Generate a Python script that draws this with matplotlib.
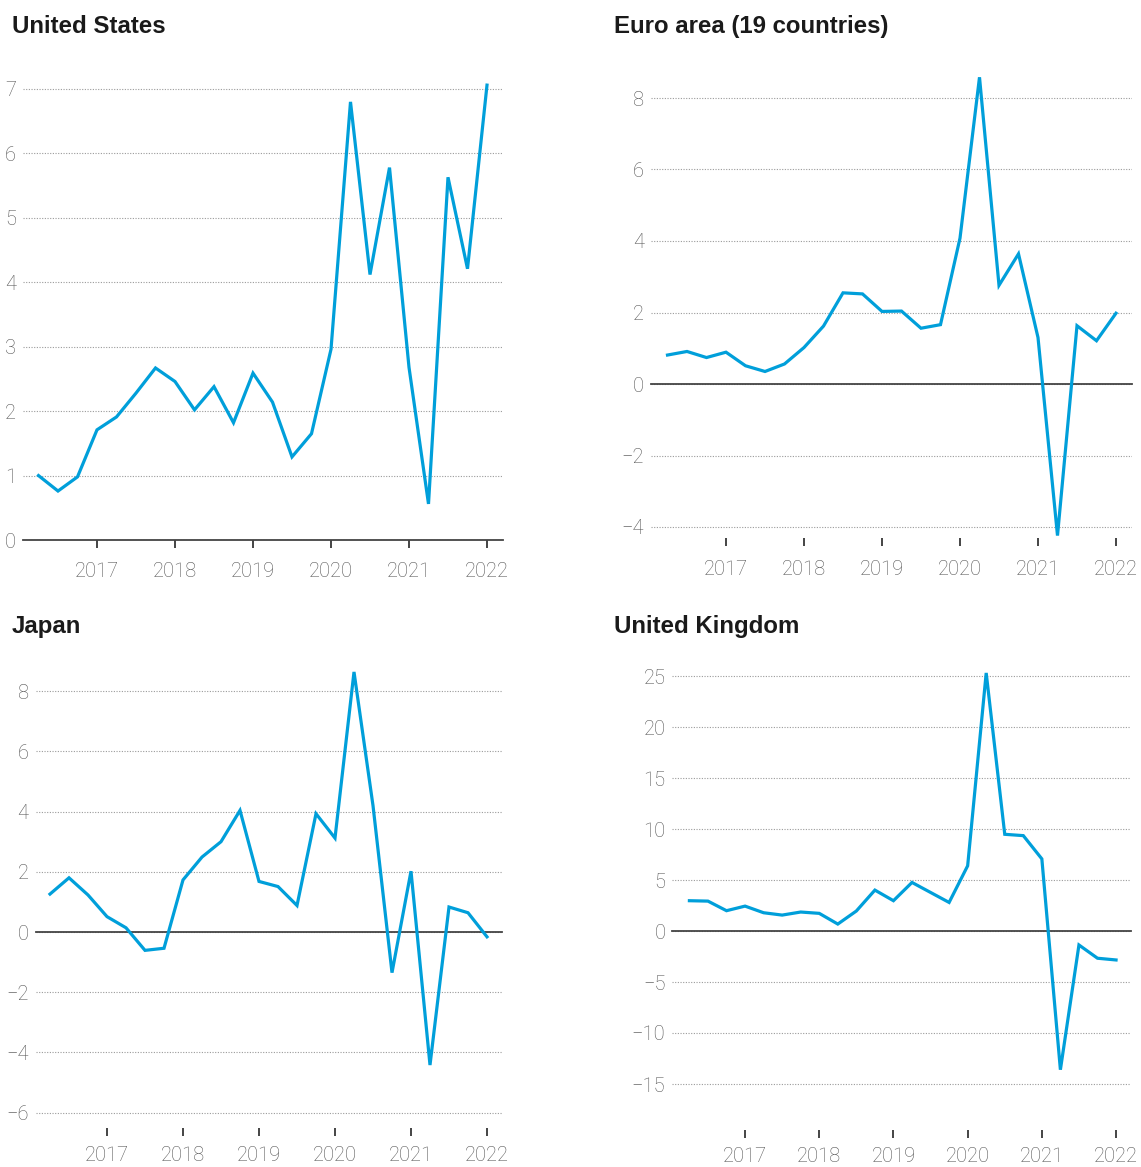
import matplotlib
matplotlib.use("Agg")
import matplotlib.pyplot as plt
import numpy as np

# quarterly observations, 2016Q2 .. 2022Q1
quarters = ['2016Q2', '2016Q3', '2016Q4',
            '2017Q1', '2017Q2', '2017Q3', '2017Q4',
            '2018Q1', '2018Q2', '2018Q3', '2018Q4',
            '2019Q1', '2019Q2', '2019Q3', '2019Q4',
            '2020Q1', '2020Q2', '2020Q3', '2020Q4',
            '2021Q1', '2021Q2', '2021Q3', '2021Q4',
            '2022Q1']

united_states = [1.00, 0.76, 0.98, 1.71, 1.91, 2.28, 2.67, 2.46, 2.02, 2.38, 1.82, 2.59,
                 2.14, 1.29, 1.65, 2.96, 6.80, 4.12, 5.78, 2.68, 0.56, 5.63, 4.21, 7.06]
euro_area = [0.81, 0.91, 0.74, 0.89, 0.51, 0.35, 0.56, 1.02, 1.62, 2.55, 2.52, 2.03,
             2.04, 1.56, 1.66, 4.08, 8.58, 2.76, 3.64, 1.30, -4.24, 1.63, 1.21, 1.98]
japan = [1.26, 1.80, 1.23, 0.51, 0.14, -0.61, -0.54, 1.73, 2.49, 3.00, 4.04, 1.68,
         1.51, 0.88, 3.93, 3.12, 8.64, 4.20, -1.35, 2.02, -4.42, 0.83, 0.64, -0.16]
united_kingdom = [2.97, 2.93, 1.99, 2.44, 1.79, 1.56, 1.86, 1.73, 0.68, 1.96, 4.01, 2.97,
                  4.76, 3.78, 2.80, 6.39, 25.3, 9.48, 9.35, 7.07, -13.6, -1.37, -2.67, -2.84]

year_ticks = [2017, 2018, 2019, 2020, 2021, 2022]

W, H = 1141, 1167
BLUE = '#009fda'
GREY_TXT = '#555555'

x = np.array([int(q[:4]) + (int(q[-1]) - 1) / 4 for q in quarters])

fig = plt.figure(figsize=(W / 100, H / 100), dpi=100)
fig.patch.set_facecolor('white')


def make_axes(px_first, sx, py_zero, sy, xlim, ylim):
    # px_first: pixel of 2016Q2, sx/sy: pixels per unit
    left = px_first - (x[0] - xlim[0]) * sx
    right = left + (xlim[1] - xlim[0]) * sx
    bottom = py_zero - ylim[0] * sy
    top = py_zero - ylim[1] * sy
    return fig.add_axes([left / W, 1 - bottom / H, (right - left) / W, (bottom - top) / H])


panels = [
    # title, data, title pos, axes geometry, yticks, xlim, ylim, x label pad
    ("United States", united_states, (12, 33), (38.5, 78.0, 540, 64.43),
     list(range(0, 8)), (2016.05, 2022.2), (0, 7.25), 10),
    ("Euro area (19 countries)", euro_area, (614, 33), (667.5, 78.0, 384, 35.75),
     [-4, -2, 0, 2, 4, 6, 8], (2016.04, 2022.2), (-4.3, 8.7), 10),
    ("Japan", japan, (12, 633), (50, 76.0, 932, 30.1),
     [-6, -4, -2, 0, 2, 4, 6, 8], (2016.06, 2022.2), (-6.5, 9.0), 7),
    ("United Kingdom", united_kingdom, (614, 633), (689.4, 74.2, 931, 10.2),
     [-15, -10, -5, 0, 5, 10, 15, 20, 25], (2016.02, 2022.2), (-19.5, 26.5), 6),
]

for title, vals, tpos, geo, yticks, xlim, ylim, xpad in panels:
    px_first, sx, py_zero, sy = geo
    ax = make_axes(px_first, sx, py_zero, sy, xlim, ylim)
    ax.set_xlim(*xlim)
    ax.set_ylim(*ylim)
    for s in ax.spines.values():
        s.set_visible(False)

    ax.set_yticks(yticks)
    ax.set_yticklabels([str(v).replace('-', '\u2212') for v in yticks])
    ax.set_xticks(year_ticks)
    ax.set_xticklabels([str(y) for y in year_ticks])

    ax.tick_params(axis='y', length=0, pad=5, labelsize=14.5, labelcolor=GREY_TXT)
    ax.tick_params(axis='x', direction='out', length=6, width=1.4, color='#444444',
                   pad=xpad, labelsize=14.5, labelcolor=GREY_TXT)
    for lab in ax.get_xticklabels() + ax.get_yticklabels():
        lab.set_fontfamily('Roboto')
        lab.set_fontweight('light')

    ax.yaxis.grid(True, linestyle=(0, (1, 1.4)), color='#9a9a9a', linewidth=0.8)
    ax.set_axisbelow(True)
    ax.axhline(0, color='#444444', linewidth=1.3, zorder=2, clip_on=False)

    ax.plot(x, vals, color=BLUE, linewidth=2.3, zorder=3, solid_joinstyle='miter',
            clip_on=False)

    fig.text(tpos[0] / W, 1 - tpos[1] / H, title, fontsize=17.3, fontweight='bold',
             family='Liberation Sans', color='#1a1a1a', va='baseline', ha='left')

fig.savefig('out.png', dpi=100, facecolor='white')
